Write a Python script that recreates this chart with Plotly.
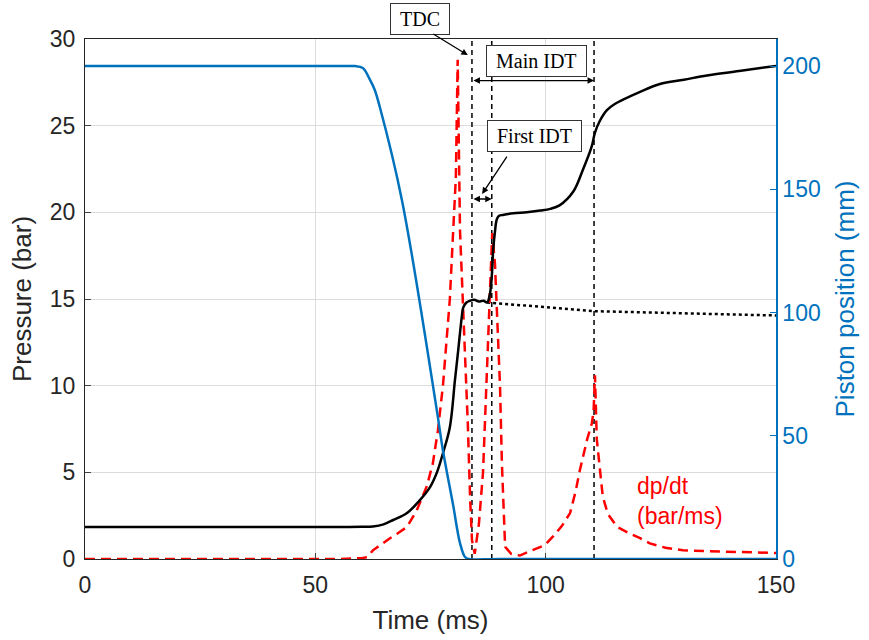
import plotly.graph_objects as go

# ---------------- data ----------------
# Pressure (bar) vs time (ms)
p_time = [0, 20, 40, 55.3, 60, 62.5, 64.8, 66.9, 69.9, 72.7, 74.9, 76.4, 77.7, 79.2, 80.3, 81.0, 81.8,
          82.1, 82.8, 83.6, 84.5, 85.5, 86.5, 87.3, 87.9, 88.3, 88.6, 89.0, 89.4, 89.9, 90.7, 93,
          95.9, 98.8, 101, 103, 106, 108, 110, 110.7, 111.8, 113.3, 115, 116.8, 120.5, 124.8,
          130, 135, 142, 150]
pressure = [1.85, 1.85, 1.85, 1.85, 1.86, 1.88, 2.0, 2.25, 2.65, 3.4, 4.15, 5.0, 6.1, 7.6, 10.3, 12.0, 14.0,
            14.5, 14.8, 14.9, 14.95, 14.85, 14.9, 14.8, 15.3, 16.3, 17.8, 18.9, 19.6, 19.8, 19.85, 19.95,
            20.0, 20.1, 20.2, 20.4, 21.2, 22.4, 23.8, 24.6, 25.3, 25.9, 26.25, 26.5, 26.95, 27.4,
            27.65, 27.9, 28.15, 28.45]

# Non-reactive pressure (dotted)
nr_time = [87.3, 92, 98, 105, 110.5, 118, 126, 135, 142, 150]
nr_pressure = [14.8, 14.7, 14.55, 14.4, 14.3, 14.25, 14.2, 14.15, 14.1, 14.05]

# dp/dt (bar/ms)
d_time = [0, 55, 60, 61.2, 62.5, 64.5, 66.2, 68, 69.9, 72, 74.2, 75.5, 76.6, 77.7, 79.2, 79.9, 80.5,
          80.9, 81.4, 82, 82.5, 82.9, 83.1, 83.6, 84, 84.6, 85.5, 86.4, 87.2, 87.8, 88.4, 89, 89.6,
          90.1, 90.5, 91.2, 92.5, 94.4, 97, 99.8, 101.6, 103.5, 105.3, 106.5, 107.4, 109, 110,
          110.4, 110.7, 111.1, 112.4, 113.5, 115.5, 118, 120.5, 122.6, 126, 129.8, 135, 144.3, 150]
dpdt = [0, 0, 0.05, 0.1, 0.5, 0.9, 1.2, 1.5, 1.85, 2.8, 4.2, 5.5, 7.4, 10.0, 15.0, 18.8, 22.0,
        28.8, 19.0, 15.0, 12.0, 9.2, 7.8, 3.5, 1.1, 0.3, 2.0, 5.0, 10.3, 15.0, 18.8, 17.0, 13.0,
        9.9, 5.5, 0.7, 0.3, 0.2, 0.5, 0.8, 1.3, 1.9, 2.65, 3.9, 5.1, 6.9, 7.8,
        8.5, 10.6, 6.9, 3.6, 2.6, 1.85, 1.5, 1.2, 0.9, 0.65, 0.5, 0.45, 0.4, 0.35]

# Piston position (mm)
pos_time = [0, 30, 50, 57.5, 58.6, 60.3, 61.9, 62.9, 64.0, 68.8, 76.4, 77.7, 79.9, 81.4, 82.5, 83.3, 90, 150]
position = [200, 200, 200, 200, 200, 199.2, 194.3, 190.3, 183.4, 145.6, 60.0, 44.0, 22.0, 6.5, 0.8, 0, 0, 0]

# Event times (ms): TDC, first ignition, main ignition
event_times = [84.0, 88.3, 110.5]

x_ticks = [0, 50, 100, 150]
y_ticks = [0, 5, 10, 15, 20, 25, 30]
y2_ticks = [0, 50, 100, 150, 200]

BLUE = "#0072BD"
RED = "#FF0000"
SANS = "Liberation Sans, Arial, sans-serif"
SERIF = "Liberation Serif, Times New Roman, serif"

fig = go.Figure()

# vertical dashed event lines
for t in event_times:
    fig.add_trace(go.Scatter(x=[t, t], y=[0, 30], mode="lines",
                             line=dict(color="black", width=1.5, dash="5px,4px"),
                             showlegend=False, hoverinfo="skip"))

fig.add_trace(go.Scatter(x=nr_time, y=nr_pressure, mode="lines",
                         line=dict(color="black", width=2.5, dash="dot"), showlegend=False))
fig.add_trace(go.Scatter(x=d_time, y=dpdt, mode="lines",
                         line=dict(color=RED, width=2.5, dash="10px,6px"), showlegend=False))
fig.add_trace(go.Scatter(x=p_time, y=pressure, mode="lines", line_shape="spline",
                         line=dict(color="black", width=2.5), showlegend=False))
fig.add_trace(go.Scatter(x=pos_time, y=position, mode="lines", line_shape="spline", yaxis="y2",
                         line=dict(color=BLUE, width=2.5), showlegend=False))

ann = []
box = dict(font=dict(family=SERIF, size=20, color="black"), bordercolor="#333333",
           borderwidth=1, borderpad=4, bgcolor="white", showarrow=False,
           xanchor="center", yanchor="middle")
# TDC box sits above the plot area -> paper coordinates
ann.append(dict(text="\u00a0TDC\u00a0", x=0.485, y=1.0375, xref="paper", yref="paper", **box))
ann.append(dict(text="\u00a0Main IDT\u00a0", x=98.1, y=28.74, xref="x", yref="y", **box))
ann.append(dict(text="\u00a0First IDT\u00a0", x=97.5, y=24.4, xref="x", yref="y", **box))

arrow_style = dict(text="", showarrow=True, arrowcolor="black", arrowwidth=1.3, arrowhead=2,
                   arrowsize=1, standoff=0, startstandoff=0)
# TDC pointer (pixel offsets for the tail)
ann.append(dict(x=0.554, y=0.969, xref="paper", yref="paper", axref="pixel", ayref="pixel",
                ax=-36, ay=-22, **arrow_style))
data_arrow = dict(xref="x", yref="y", axref="x", ayref="y", **arrow_style)
# First IDT pointer
ann.append(dict(x=86.2, y=21.06, ax=91.8, ay=23.3, **data_arrow))
# Main IDT double arrow
ann.append(dict(x=event_times[2], y=27.6, ax=event_times[0], ay=27.6, arrowside="end+start", **data_arrow))
# First IDT double arrow
ann.append(dict(x=event_times[1], y=20.77, ax=event_times[0], ay=20.77, arrowside="end+start", **data_arrow))

# dp/dt label
ann.append(dict(text="dp/dt<br>(bar/ms)", x=119.3, y=3.35, xref="x", yref="y", xanchor="left",
                yanchor="middle", align="left", showarrow=False,
                font=dict(family=SANS, size=23, color=RED)))

fig.update_layout(
    width=869, height=640,
    margin=dict(l=85, r=93, t=39, b=81, autoexpand=False),
    paper_bgcolor="white", plot_bgcolor="white",
    font=dict(family=SANS, size=23, color="#262626"),
    annotations=ann,
    xaxis=dict(range=[0, 150], tickvals=x_ticks, ticks="inside", ticklen=6,
               showgrid=True, gridcolor="#DCDCDC", gridwidth=1, zeroline=False,
               showline=True, linecolor="#262626", linewidth=1, mirror=True,
               ticklabelstandoff=5, automargin=False,
               tickfont=dict(size=23, color="#262626"),
               title=dict(text="Time (ms)", font=dict(size=26, color="#262626"), standoff=14)),
    yaxis=dict(range=[0, 30], tickvals=y_ticks, ticks="inside", ticklen=6,
               showgrid=True, gridcolor="#DCDCDC", gridwidth=1, zeroline=False,
               showline=True, linecolor="#262626", linewidth=1, automargin=False,
               ticklabelstandoff=4,
               tickfont=dict(size=23, color="#262626"),
               title=dict(text="Pressure (bar)", font=dict(size=26, color="#262626"), standoff=10)),
    yaxis2=dict(range=[0, 211], tickvals=y2_ticks, overlaying="y", side="right",
                ticks="inside", ticklen=6, tickcolor=BLUE, showgrid=False, zeroline=False,
                showline=True, linecolor=BLUE, linewidth=1.5, automargin=False,
                tickfont=dict(size=23, color=BLUE),
                title=dict(text="Piston position (mm)", font=dict(size=26, color=BLUE), standoff=16)),
)

fig.write_html("out.html")
